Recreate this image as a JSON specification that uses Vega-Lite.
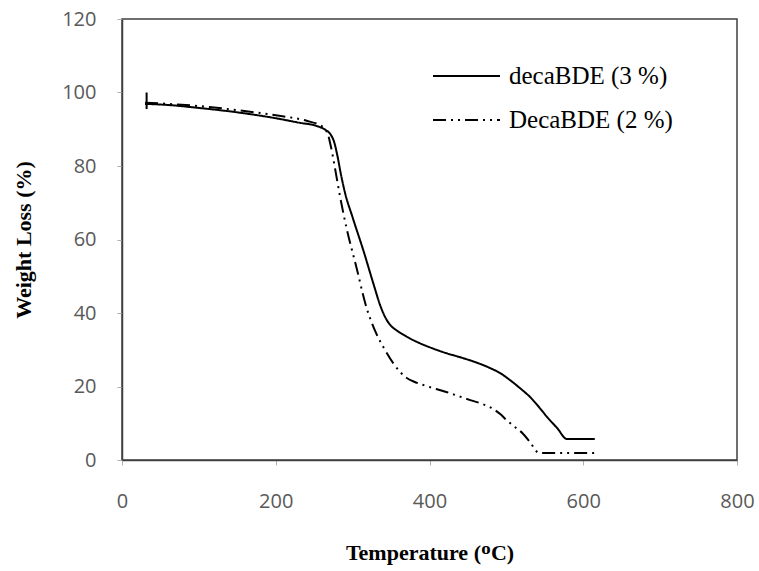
{
  "$schema": "https://vega.github.io/schema/vega-lite/v6.json",
  "width": 615,
  "height": 441,
  "autosize": "none",
  "padding": {"left": 122, "top": 19, "right": 22, "bottom": 111},
  "background": "white",
  "config": {
    "view": {"stroke": "#404040", "strokeWidth": 1.5},
    "axis": {"grid": false}
  },
  "datasets": {
    "curves": [
      {"series": "decaBDE (3 %)", "T": 30, "W": 96.9},
      {"series": "decaBDE (3 %)", "T": 60, "W": 96.6},
      {"series": "decaBDE (3 %)", "T": 100, "W": 95.8},
      {"series": "decaBDE (3 %)", "T": 150, "W": 94.6},
      {"series": "decaBDE (3 %)", "T": 200, "W": 93.0},
      {"series": "decaBDE (3 %)", "T": 230, "W": 91.8},
      {"series": "decaBDE (3 %)", "T": 253, "W": 90.9},
      {"series": "decaBDE (3 %)", "T": 265, "W": 89.8},
      {"series": "decaBDE (3 %)", "T": 271, "W": 88.7},
      {"series": "decaBDE (3 %)", "T": 276, "W": 86.5},
      {"series": "decaBDE (3 %)", "T": 280, "W": 83.0},
      {"series": "decaBDE (3 %)", "T": 285, "W": 77.5},
      {"series": "decaBDE (3 %)", "T": 290, "W": 72.8},
      {"series": "decaBDE (3 %)", "T": 300, "W": 66.0},
      {"series": "decaBDE (3 %)", "T": 314, "W": 57.0},
      {"series": "decaBDE (3 %)", "T": 327, "W": 48.0},
      {"series": "decaBDE (3 %)", "T": 336, "W": 42.0},
      {"series": "decaBDE (3 %)", "T": 343, "W": 38.6},
      {"series": "decaBDE (3 %)", "T": 350, "W": 36.5},
      {"series": "decaBDE (3 %)", "T": 357, "W": 35.3},
      {"series": "decaBDE (3 %)", "T": 370, "W": 33.6},
      {"series": "decaBDE (3 %)", "T": 385, "W": 32.0},
      {"series": "decaBDE (3 %)", "T": 400, "W": 30.7},
      {"series": "decaBDE (3 %)", "T": 420, "W": 29.2},
      {"series": "decaBDE (3 %)", "T": 444, "W": 27.7},
      {"series": "decaBDE (3 %)", "T": 460, "W": 26.6},
      {"series": "decaBDE (3 %)", "T": 479, "W": 25.0},
      {"series": "decaBDE (3 %)", "T": 493, "W": 23.5},
      {"series": "decaBDE (3 %)", "T": 505, "W": 21.7},
      {"series": "decaBDE (3 %)", "T": 518, "W": 19.5},
      {"series": "decaBDE (3 %)", "T": 531, "W": 17.1},
      {"series": "decaBDE (3 %)", "T": 542, "W": 14.5},
      {"series": "decaBDE (3 %)", "T": 553, "W": 11.7},
      {"series": "decaBDE (3 %)", "T": 566, "W": 8.7},
      {"series": "decaBDE (3 %)", "T": 579, "W": 5.7},
      {"series": "decaBDE (3 %)", "T": 615, "W": 5.7},
      {"series": "DecaBDE (2 %)", "T": 30, "W": 97.2},
      {"series": "DecaBDE (2 %)", "T": 60, "W": 96.9},
      {"series": "DecaBDE (2 %)", "T": 100, "W": 96.3},
      {"series": "DecaBDE (2 %)", "T": 150, "W": 95.2},
      {"series": "DecaBDE (2 %)", "T": 200, "W": 93.8},
      {"series": "DecaBDE (2 %)", "T": 240, "W": 92.3},
      {"series": "DecaBDE (2 %)", "T": 260, "W": 90.8},
      {"series": "DecaBDE (2 %)", "T": 268, "W": 88.5},
      {"series": "DecaBDE (2 %)", "T": 271, "W": 86.0},
      {"series": "DecaBDE (2 %)", "T": 277, "W": 79.5},
      {"series": "DecaBDE (2 %)", "T": 283, "W": 72.4},
      {"series": "DecaBDE (2 %)", "T": 292, "W": 63.2},
      {"series": "DecaBDE (2 %)", "T": 305, "W": 52.4},
      {"series": "DecaBDE (2 %)", "T": 318, "W": 41.5},
      {"series": "DecaBDE (2 %)", "T": 325, "W": 37.3},
      {"series": "DecaBDE (2 %)", "T": 331, "W": 34.3},
      {"series": "DecaBDE (2 %)", "T": 342, "W": 30.0},
      {"series": "DecaBDE (2 %)", "T": 353, "W": 26.3},
      {"series": "DecaBDE (2 %)", "T": 362, "W": 23.9},
      {"series": "DecaBDE (2 %)", "T": 370, "W": 22.4},
      {"series": "DecaBDE (2 %)", "T": 380, "W": 21.3},
      {"series": "DecaBDE (2 %)", "T": 392, "W": 20.4},
      {"series": "DecaBDE (2 %)", "T": 422, "W": 18.5},
      {"series": "DecaBDE (2 %)", "T": 453, "W": 16.3},
      {"series": "DecaBDE (2 %)", "T": 468, "W": 15.3},
      {"series": "DecaBDE (2 %)", "T": 482, "W": 14.0},
      {"series": "DecaBDE (2 %)", "T": 492, "W": 12.5},
      {"series": "DecaBDE (2 %)", "T": 500, "W": 10.9},
      {"series": "DecaBDE (2 %)", "T": 511, "W": 9.0},
      {"series": "DecaBDE (2 %)", "T": 521, "W": 7.3},
      {"series": "DecaBDE (2 %)", "T": 531, "W": 4.8},
      {"series": "DecaBDE (2 %)", "T": 540, "W": 2.2},
      {"series": "DecaBDE (2 %)", "T": 543, "W": 1.9},
      {"series": "DecaBDE (2 %)", "T": 615, "W": 1.9}
    ],
    "bar": [{"T": 32, "lo": 95.5, "hi": 100}]
  },
  "layer": [
    {
      "data": {"name": "curves"},
      "mark": {"type": "line", "color": "black", "strokeWidth": 2, "interpolate": "monotone"},
      "encoding": {
        "x": {
          "field": "T", "type": "quantitative",
          "scale": {"domain": [0, 800], "nice": false},
          "axis": {
            "values": [0, 200, 400, 600, 800],
            "title": "Temperature (ᴼC)",
            "titleFont": "Liberation Serif", "titleFontSize": 22, "titleFontWeight": "bold", "titleColor": "black",
            "titlePadding": 31,
            "labelFont": "Open Sans", "labelFontSize": 20, "labelColor": "#595959", "labelPadding": 26, "labelFlush": false,
            "tickSize": 5, "tickColor": "#b0b0b0", "domainColor": "#404040", "domainWidth": 1.5
          }
        },
        "y": {
          "field": "W", "type": "quantitative",
          "scale": {"domain": [0, 120], "nice": false},
          "axis": {
            "values": [0, 20, 40, 60, 80, 100, 120],
            "title": "Weight Loss (%)",
            "titleFont": "Liberation Serif", "titleFontSize": 22, "titleFontWeight": "bold", "titleColor": "black",
            "titlePadding": 26,
            "labelFont": "Open Sans", "labelFontSize": 20, "labelColor": "#595959", "labelPadding": 21, "labelFlush": false,
            "tickSize": 5, "tickColor": "#b0b0b0", "domainColor": "#404040", "domainWidth": 1.5
          }
        },
        "detail": {"field": "series"},
        "strokeDash": {
          "field": "series", "type": "nominal",
          "scale": {"domain": ["decaBDE (3 %)", "DecaBDE (2 %)"], "range": [[1, 0], [13, 5, 2, 5, 2, 5]]},
          "legend": {
            "title": null,
            "orient": "none", "legendX": 310, "legendY": 35,
            "symbolType": "stroke", "symbolSize": 4489, "symbolStrokeColor": "black", "symbolStrokeWidth": 2,
            "labelFont": "Liberation Serif", "labelFontSize": 25, "labelColor": "black", "labelOffset": 8, "labelLimit": 400,
            "clipHeight": 44, "rowPadding": 0
          }
        }
      }
    },
    {
      "data": {"name": "bar"},
      "mark": {"type": "rule", "color": "black", "strokeWidth": 2},
      "encoding": {
        "x": {"field": "T", "type": "quantitative"},
        "y": {"field": "lo", "type": "quantitative"},
        "y2": {"field": "hi"}
      }
    }
  ]
}
